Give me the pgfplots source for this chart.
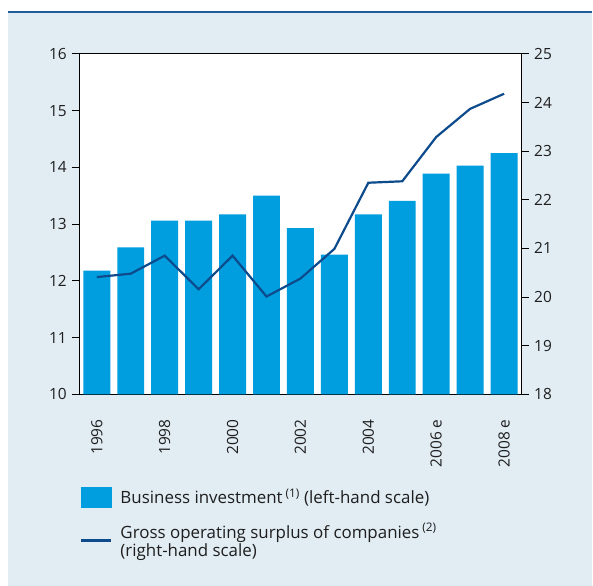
\documentclass[border=0pt]{standalone}
\usepackage{pgfplots}
\pgfplotsset{compat=1.18}
\usepackage{fontspec}
\setmainfont{Open Sans}
\definecolor{bgblue}{HTML}{E1ECF3}
\definecolor{barblue}{HTML}{009DDF}
\definecolor{lineblue}{HTML}{0D4B8C}
\definecolor{topline}{HTML}{1F5C99}
\definecolor{txt}{HTML}{1E1E1E}
\begin{document}
\begin{tikzpicture}[x=1bp,y=1bp]
\fill[white] (0,0) rectangle (593,587);
\fill[bgblue] (8,0) rectangle (593,575);
\draw[topline, line width=2.2bp] (8,575) -- (593,575);
\begin{axis}[
  at={(80bp,192bp)}, anchor=south west,
  scale only axis, width=442bp, height=341bp,
  xmin=-0.5, xmax=12.5, ymin=10, ymax=16,
  axis background/.style={fill=white},
  ybar, bar width=27bp, bar shift=0pt,
  ytick={10,...,16}, ytick pos=left,
  xtick={0,2,4,6,8,10,12},
  xticklabels={1996,1998,2000,2002,2004,2006 e,2008 e},
  major x tick style={draw=none},
  tick align=outside, major tick length=8bp,
  axis line style={black, line width=0.9bp},
  y tick style={black, line width=0.9bp},
  font=\fontsize{15.5}{18}\selectfont,
  tick label style={txt},
  /pgf/number format/assume math mode=true,
  xticklabel style={rotate=90, anchor=east, inner sep=0pt},
  xticklabel shift=17bp,
  yticklabel style={inner sep=5bp},
]
\addplot[fill=barblue, draw=none] coordinates {
(0,12.18) (1,12.59) (2,13.06) (3,13.06) (4,13.17) (5,13.50) (6,12.93)
(7,12.46) (8,13.17) (9,13.41) (10,13.89) (11,14.03) (12,14.25)};
\end{axis}
\begin{axis}[
  at={(80bp,192bp)}, anchor=south west,
  scale only axis, width=442bp, height=341bp,
  xmin=-0.5, xmax=12.5, ymin=18, ymax=25,
  axis x line=none, axis y line*=right,
  ytick={18,...,25},
  tick align=outside, major tick length=8bp,
  axis line style={black, line width=0.9bp},
  y tick style={black, line width=0.9bp},
  font=\fontsize{15.5}{18}\selectfont,
  tick label style={txt},
  /pgf/number format/assume math mode=true,
  yticklabel style={inner sep=5bp},
  legend style={at={(0,-0.272)}, anchor=north west, draw=none, fill=none,
    font=\fontsize{17}{18.3}\selectfont, text=txt, inner sep=0pt,
    cells={align=left, anchor=west}, row sep=14bp,
    /tikz/every odd column/.append style={column sep=6bp}},
  legend cell align=left,
]
\addlegendimage{legend image code/.code={\fill[barblue] (0bp,-10bp) rectangle (30bp,10bp);}}
\addlegendentry{Business investment\,\textsuperscript{(1)} (left-hand scale)}
\addplot[lineblue, line width=2.2bp,
  legend image code/.code={\draw[lineblue, line width=2.5bp] (0bp,0bp) -- (30bp,0bp);}] coordinates {
(0,20.41) (1,20.48) (2,20.85) (3,20.16) (4,20.85) (5,20.01) (6,20.38)
(7,20.99) (8,22.35) (9,22.38) (10,23.29) (11,23.87) (12,24.18)};
\addlegendentry{Gross operating surplus of companies\,\textsuperscript{(2)}\\(right-hand scale)}
\end{axis}
\end{tikzpicture}
\end{document}
